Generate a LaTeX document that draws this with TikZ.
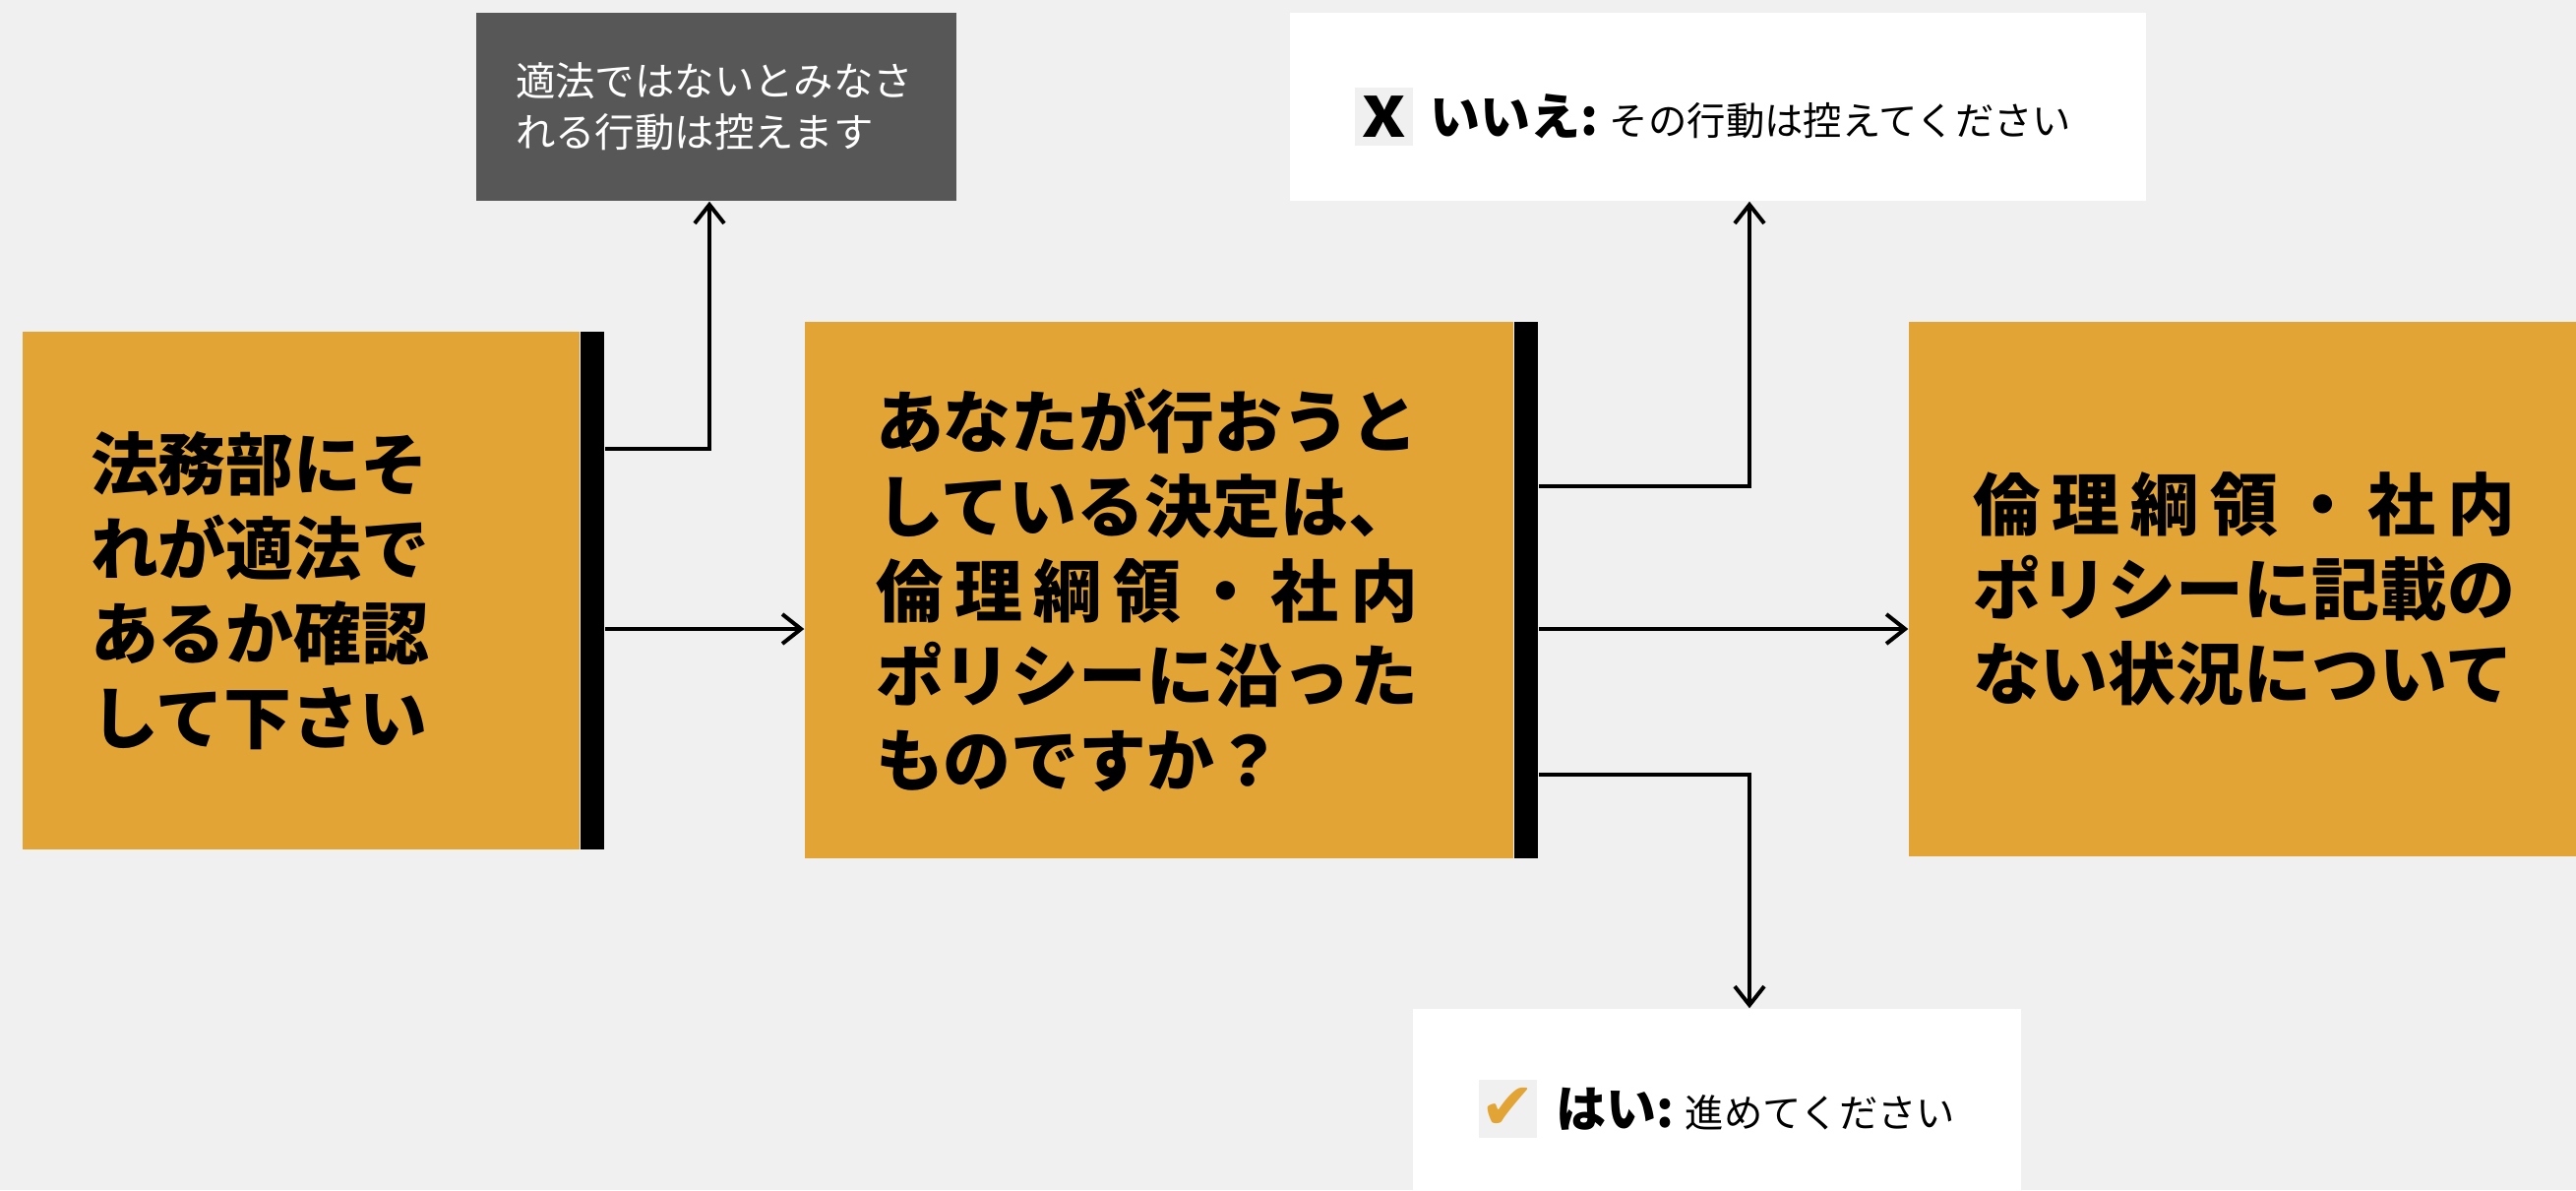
\documentclass[tikz,border=0pt]{standalone}
\usepackage{fontspec}
\setmainfont{Noto Sans CJK JP}
\newfontfamily\symfont{DejaVu Sans}
\usetikzlibrary{positioning,arrows.meta}

\definecolor{bakgrunn}{HTML}{F0F0F0}
\definecolor{oransje}{HTML}{E2A535}
\definecolor{morkgra}{HTML}{575757}

\begin{document}
\begin{tikzpicture}[
  boks/.style={fill=oransje, inner xsep=0pt, align=left,
    font=\bfseries\fontsize{19.6pt}{24.5pt}\selectfont},
  stolpe/.style={fill=black, minimum width=0.24cm, inner sep=0pt},
  svar/.style={fill=white, inner sep=0pt, minimum height=1.91cm},
  ikon/.style={fill=bakgrunn, minimum size=0.59cm, inner sep=0pt},
  svartekst/.style={inner sep=0pt, font=\fontsize{11.2pt}{13pt}\selectfont},
  pil/.style={line width=0.04cm, -{Straight Barb[length=0.19cm,width=0.3cm]}},
]
  % Bakgrunn
  \fill[bakgrunn] (0,0) rectangle (26.18,-12.09);
  \useasboundingbox (0,0) rectangle (26.18,-12.09);

  % Boks A
  \node[boks, minimum width=5.66cm, minimum height=5.26cm, text width=4.28cm]
    (legal) at (3.06,-6.00) {法務部にそ\\れが適法で\\あるか確認\\して下さい};
  \node[stolpe, minimum height=5.26cm, right=0pt of legal] (legalbar) {};

  % Boks over A
  \node[fill=morkgra, text=white, inner xsep=0pt, align=left,
    minimum width=4.88cm, minimum height=1.91cm, text width=4.08cm,
    font=\fontsize{11.5pt}{14.8pt}\selectfont]
    (illegal) at (7.28,-1.085) {適法ではないとみなさ\\れる行動は控えます};

  % Boks B
  \node[boks, minimum width=7.20cm, minimum height=5.45cm, text width=5.76cm]
    (decision) at (11.78,-5.995) {あなたが行おうと\\している決定は、\\
      \makebox[8em][l]{倫\hfill 理\hfill 綱\hfill 領\hfill ・\hfill 社\hfill 内}\\
      ポリシーに沿った\\ものですか？};
  \node[stolpe, minimum height=5.45cm, right=0pt of decision] (decbar) {};

  % Boks C
  \node[boks, minimum width=6.82cm, minimum height=5.43cm, text width=5.52cm]
    (result) at (22.81,-5.985) {%
      \makebox[8em][l]{倫\hfill 理\hfill 綱\hfill 領\hfill ・\hfill 社\hfill 内}\\
      ポリシーに記載の\\ない状況について};

  % Svar: nei
  \node[svar, minimum width=8.70cm] (nobox) at (17.46,-1.085) {};
  \node[ikon] (noicon) at (14.065,-1.185)
    {\bfseries\fontsize{16pt}{16pt}\selectfont\scalebox{1.2}[1]{X}};
  \node[svartekst, right=0.16cm of noicon] (notext)
    {{\bfseries\fontsize{14.5pt}{15pt}\selectfont いいえ:} その行動は控えてください};

  % Svar: ja
  \node[svar, minimum width=6.18cm] (yesbox) at (17.45,-11.205) {};
  \node[ikon] (yesicon) at (15.325,-11.265)
    {\symfont\fontsize{19pt}{19pt}\selectfont\color{oransje}✔};
  \node[svartekst, right=0.18cm of yesicon] (yestext)
    {{\bfseries\fontsize{14.5pt}{15pt}\selectfont はい:} 進めてください};

  % Piler
  \coordinate (knekkA) at (7.21,-4.56);
  \coordinate (midten) at (0,-6.39);
  \coordinate (gaffel) at (17.78,-4.94);
  \coordinate (gaffelB) at (17.78,-7.87);

  \draw[pil] (legalbar.east |- knekkA) -| (knekkA |- illegal.south);
  \draw[pil] (legalbar.east |- midten) -- (decision.west |- midten);
  \draw[pil] (decbar.east |- gaffel) -| (gaffel |- nobox.south);
  \draw[pil] (decbar.east |- midten) -- (result.west |- midten);
  \draw[pil] (decbar.east |- gaffelB) -| (gaffelB |- yesbox.north);
\end{tikzpicture}
\end{document}
